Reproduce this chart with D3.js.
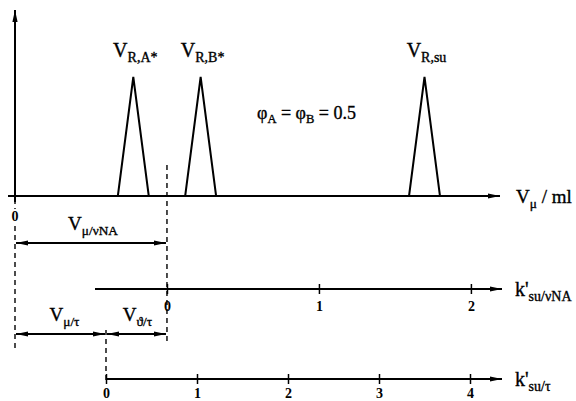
<!DOCTYPE html>
<html>
<head>
<meta charset="utf-8">
<script src="https://cdn.jsdelivr.net/npm/d3@7"></script>
<style>
  html, body { margin: 0; padding: 0; background: #fff; }
  svg { display: block; font-family: "Liberation Serif", "DejaVu Serif", serif; }
</style>
</head>
<body>
<svg id="chart" width="576" height="401"></svg>
<script>
(function () {
  'use strict';

  // peaks on the V_mu axis, volumes in units of V_mu/tau
  const peakNames = ['R,A*', 'R,B*', 'R,su'];
  const peakVolumes = [1.30, 2.04, 4.50];
  const peakHeights = [1, 1, 1];
  const peakHalfWidth = 0.17;

  // hold-up volumes (same units)
  const VmuTau = 1.0;
  const VmuNA = 1.67;

  const kNATicks = [0, 1, 2];
  const kTauTicks = [0, 1, 2, 3, 4];

  const svg = d3.select('#chart');

  const x = d3.scaleLinear().domain([0, 1]).range([15, 106]);
  const y = d3.scaleLinear().domain([0, 1]).range([196, 77]);
  // retention factor scales: V = V0 * (1 + k')
  const xNA = d3.scaleLinear().domain([0, 1]).range([x(VmuNA), x(VmuNA * 2)]);
  const xTau = d3.scaleLinear().domain([0, 1]).range([x(VmuTau), x(VmuTau * 2)]);

  const defs = svg.append('defs');
  defs.append('marker')
    .attr('id', 'head')
    .attr('viewBox', '0 0 12 6')
    .attr('refX', 12).attr('refY', 3)
    .attr('markerWidth', 12).attr('markerHeight', 6)
    .attr('markerUnits', 'userSpaceOnUse')
    .attr('orient', 'auto-start-reverse')
    .append('path').attr('d', 'M0,0.4 L12,3 L0,5.6 Z').attr('fill', '#000');

  function line(x1, y1, x2, y2, w) {
    return svg.append('line')
      .attr('x1', x1).attr('y1', y1).attr('x2', x2).attr('y2', y2)
      .attr('stroke', '#000').attr('stroke-width', w || 2);
  }
  function dashed(xp, y1, y2) {
    line(xp, y1, xp, y2, 1.4).attr('stroke-dasharray', '5,4');
  }
  function dblArrow(x1, x2, yp) {
    line(x1 + 1, yp, x2 - 1, yp, 2)
      .attr('marker-start', 'url(#head)').attr('marker-end', 'url(#head)');
  }
  // text with a subscript part
  function subText(xp, yp, main, sub, anchor, size, extra) {
    const t = svg.append('text')
      .attr('x', xp).attr('y', yp)
      .attr('text-anchor', anchor || 'start')
      .attr('font-size', size || 19)
      .attr('stroke', '#000').attr('stroke-width', 0.35);
    t.append('tspan').text(main);
    t.append('tspan').attr('font-size', (size || 19) * 0.7).attr('dy', 5).text(sub);
    if (extra) t.append('tspan').attr('dy', -5).text(extra);
    return t;
  }

  // dashed guides
  dashed(x(VmuNA), 165, 344);
  dashed(x(0), 199, 348);
  dashed(x(VmuTau), 330, 380);

  // main axes
  line(x(0), 199, x(0), 10).attr('marker-end', 'url(#head)');
  line(8, y(0), 500, y(0)).attr('marker-end', 'url(#head)');
  line(x(0), y(0), x(0), y(0) + 6);

  svg.append('text').attr('x', x(0)).attr('y', 221)
    .attr('text-anchor', 'middle').attr('font-size', 14).attr('font-weight', 'bold')
    .attr('stroke', '#fff').attr('stroke-width', 4).attr('paint-order', 'stroke')
    .text('0');

  // peaks
  const peakLine = d3.line().x(d => x(d[0])).y(d => y(d[1]));
  svg.append('g').selectAll('path').data(peakVolumes)
    .enter().append('path')
    .attr('d', (v, i) => peakLine([[v - peakHalfWidth, 0], [v, peakHeights[i]], [v + peakHalfWidth, 0]]))
    .attr('fill', 'none').attr('stroke', '#000').attr('stroke-width', 2)
    .attr('stroke-linejoin', 'miter');

  peakNames.forEach((n, i) => {
    subText(x(peakVolumes[i]) + 2, 57, 'V', n, 'middle', 20);
  });

  // phi label
  const phi = svg.append('text').attr('x', 257).attr('y', 119).attr('font-size', 18)
    .attr('stroke', '#000').attr('stroke-width', 0.35);
  phi.append('tspan').text('φ');
  phi.append('tspan').attr('font-size', 12.5).attr('dy', 4).text('A');
  phi.append('tspan').attr('dy', -4).text(' = φ');
  phi.append('tspan').attr('font-size', 12.5).attr('dy', 4).text('B');
  phi.append('tspan').attr('dy', -4).text(' = 0.5');

  subText(516, 203, 'V', 'μ', 'start', 19, ' / ml');

  // hold-up volume arrows
  dblArrow(x(0), x(VmuNA), 243);
  subText((x(0) + x(VmuNA)) / 2 + 2, 230, 'V', 'μ/νNA', 'middle', 19);
  dblArrow(x(0), x(VmuTau), 334);
  dblArrow(x(VmuTau), x(VmuNA), 334);
  subText((x(0) + x(VmuTau)) / 2 + 4, 321, 'V', 'μ/τ', 'middle', 19);
  subText((x(VmuTau) + x(VmuNA)) / 2 + 1, 321, 'V', 'ϑ/τ', 'middle', 19);

  // k' axes
  function kAxis(scale, ticks, yp, xStart, labelY, sub, labelOff) {
    line(xStart, yp, 502, yp).attr('marker-end', 'url(#head)');
    const g = svg.append('g').attr('transform', `translate(0,${yp})`)
      .call(d3.axisBottom(scale).tickValues(ticks).tickSize(0).tickFormat(d3.format('d')));
    g.select('.domain').remove();
    g.selectAll('.tick line').attr('y1', -5).attr('y2', 5)
      .attr('stroke', '#000').attr('stroke-width', 1.5);
    g.selectAll('.tick text').attr('y', labelOff).attr('dy', '0.71em')
      .attr('font-size', 14).attr('font-weight', 'bold')
      .attr('font-family', '"Liberation Serif", serif').attr('fill', '#000');
    subText(515, labelY, "k'", sub, 'start', 20);
  }
  kAxis(xNA, kNATicks, 289, 95, 296, 'su/νNA', 12);
  kAxis(xTau, kTauTicks, 379, x(VmuTau), 386, 'su/τ', 9);
}());
</script>
</body>
</html>
